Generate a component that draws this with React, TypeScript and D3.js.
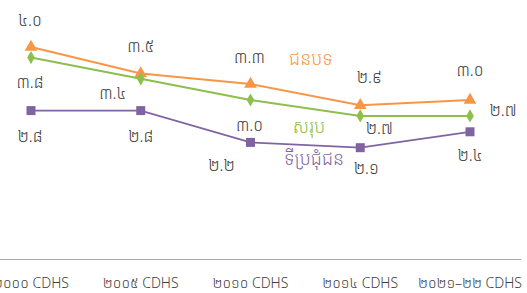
import * as d3 from "d3";
import React, {useEffect, useRef} from "react";

const categories = ["២០០០ CDHS", "២០០៥ CDHS", "២០១០ CDHS", "២០១៤ CDHS", "២០២១–២២ CDHS"];
const ruralValues = [4.0, 3.5, 3.3, 2.9, 3.0];
const totalValues = [3.8, 3.4, 3.0, 2.7, 2.7];
const urbanValues = [2.8, 2.8, 2.2, 2.1, 2.4];
const ruralLabels = ["៤.០", "៣.៥", "៣.៣", "២.៩", "៣.០"];
const totalLabels = ["៣.៨", "៣.៤", "៣.០", "២.៧", "២.៧"];
const urbanLabels = ["២.៨", "២.៨", "២.២", "២.១", "២.៤"];
const seriesNames = ["ជនបទ", "សរុប", "ទីប្រជុំជន"];

const width = 527;
const height = 293;
const khmerFont = "'Noto Sans Khmer', 'Noto Sans', sans-serif";

// label offsets from each point (layout only)
const ruralOffsets = [[-1, -25], [0, -26], [-1, -25], [9, -27], [0, -28]];
const totalOffsets = [[-1, 26], [-28, 16], [-1, 27], [19, 14], [33, -4]];
const urbanOffsets = [[-1, 27], [0, 27], [-29, 24], [6, 22], [0, 25]];

const App = () => {
    const ref = useRef(null);

    useEffect(() => {
        const svg = d3.select(ref.current);
        svg.selectAll("*").remove();

        const x = d3.scalePoint()
            .domain(categories)
            .range([31, 470]);
        const y = d3.scaleLinear()
            .domain([0, 4])
            .range([259, 47]);

        // axis line
        svg.append("line")
            .attr("x1", 0).attr("x2", 521)
            .attr("y1", 259.5).attr("y2", 259.5)
            .attr("stroke", "#a6a6a6")
            .attr("stroke-width", 1);

        svg.append("g")
            .selectAll("text")
            .data(categories)
            .join("text")
            .attr("x", d => x(d))
            .attr("y", 284)
            .attr("text-anchor", "middle")
            .attr("dominant-baseline", "middle")
            .attr("font-family", khmerFont)
            .attr("font-weight", 300)
            .attr("font-size", 14)
            .attr("fill", "#404040")
            .text(d => d);

        const series = [
            {values: ruralValues, labels: ruralLabels, offsets: ruralOffsets, color: "#f79646", symbol: d3.symbolTriangle, size: 70, sw: 2},
            {values: totalValues, labels: totalLabels, offsets: totalOffsets, color: "#8cbf4b", symbol: d3.symbolDiamond, size: 50, sw: 2},
            {values: urbanValues, labels: urbanLabels, offsets: urbanOffsets, color: "#8064a2", symbol: d3.symbolSquare, size: 81, sw: 1.7},
        ];

        const line = d3.line()
            .x((d, i) => x(categories[i]))
            .y(d => y(d));

        series.forEach(s => {
            svg.append("path")
                .datum(s.values)
                .attr("fill", "none")
                .attr("stroke", s.color)
                .attr("stroke-width", s.sw)
                .attr("d", line);

            svg.append("g")
                .selectAll("path")
                .data(s.values)
                .join("path")
                .attr("transform", (d, i) => `translate(${x(categories[i])},${y(d)})`)
                .attr("d", d3.symbol().type(s.symbol).size(s.size))
                .attr("fill", s.color);

            svg.append("g")
                .selectAll("text")
                .data(s.values)
                .join("text")
                .attr("x", (d, i) => x(categories[i]) + s.offsets[i][0])
                .attr("y", (d, i) => y(d) + s.offsets[i][1])
                .attr("text-anchor", "middle")
                .attr("dominant-baseline", "middle")
                .attr("font-family", khmerFont)
                .attr("font-weight", 300)
                .attr("font-size", 16)
                .attr("fill", "#3a3a3a")
                .text((d, i) => s.labels[i]);
        });

        // series names
        const namePos = [[311, 60], [309, 128], [314, 160]];
        svg.append("g")
            .selectAll("text")
            .data(seriesNames)
            .join("text")
            .attr("x", (d, i) => namePos[i][0])
            .attr("y", (d, i) => namePos[i][1])
            .attr("text-anchor", "middle")
            .attr("dominant-baseline", "middle")
            .attr("font-family", khmerFont)
            .attr("font-weight", 300)
            .attr("font-size", 18)
            .attr("fill", (d, i) => series[i].color)
            .text(d => d);
    }, []);

    return (
        <svg ref={ref} width={width} height={height}
             style={{position: "absolute", left: 0, top: 0, background: "#fff"}}/>
    );
};

export default App;
